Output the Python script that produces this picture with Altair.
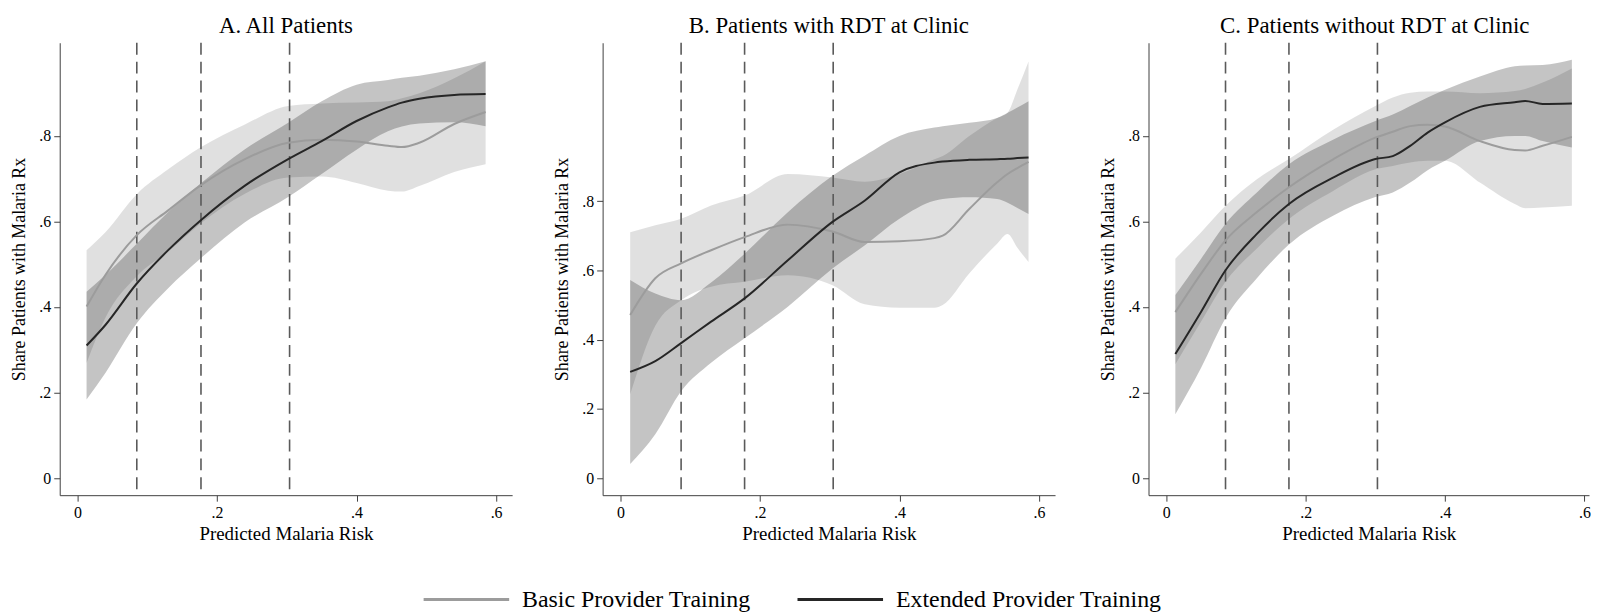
import altair as alt
import pandas as pd

BASIC = "Basic Provider Training"
EXT = "Extended Provider Training"
FONT = "Liberation Serif"

# ---------------- Panel A: All Patients ----------------
a_x = [0.013, 0.04, 0.085, 0.13, 0.176, 0.24, 0.302, 0.35, 0.40, 0.445, 0.465, 0.49, 0.54, 0.585]
a_basic_mean = [0.401, 0.475, 0.568, 0.626, 0.684, 0.746, 0.784, 0.791, 0.787, 0.777, 0.774, 0.784, 0.828, 0.856]
a_basic_lo = [0.269, 0.375, 0.472, 0.530, 0.595, 0.665, 0.703, 0.705, 0.690, 0.672, 0.670, 0.683, 0.716, 0.734]
a_basic_hi = [0.533, 0.575, 0.664, 0.722, 0.773, 0.827, 0.870, 0.876, 0.878, 0.881, 0.888, 0.900, 0.935, 0.975]
a_ext_mean = [0.310, 0.358, 0.455, 0.533, 0.602, 0.684, 0.746, 0.788, 0.835, 0.867, 0.878, 0.887, 0.896, 0.898]
a_ext_lo = [0.184, 0.246, 0.362, 0.444, 0.513, 0.598, 0.657, 0.711, 0.768, 0.811, 0.822, 0.829, 0.832, 0.823]
a_ext_hi = [0.436, 0.475, 0.548, 0.622, 0.688, 0.769, 0.831, 0.881, 0.920, 0.931, 0.936, 0.941, 0.956, 0.975]
a_cuts = [0.085, 0.177, 0.304]

# ---------------- Panel B: Patients with RDT at Clinic ----------------
b_x = [0.014, 0.05, 0.087, 0.13, 0.178, 0.24, 0.304, 0.35, 0.40, 0.45, 0.462, 0.50, 0.54, 0.555, 0.569, 0.585]
b_basic_mean = [0.471, 0.577, 0.620, 0.658, 0.696, 0.732, 0.712, 0.682, 0.684, 0.693, 0.700, 0.777, 0.854, 0.878, 0.895, 0.913]
b_basic_lo = [0.242, 0.440, 0.514, 0.553, 0.567, 0.586, 0.557, 0.502, 0.492, 0.492, 0.500, 0.591, 0.677, 0.705, 0.665, 0.624]
b_basic_hi = [0.710, 0.730, 0.749, 0.787, 0.816, 0.878, 0.868, 0.856, 0.878, 0.921, 0.930, 0.988, 1.040, 1.055, 1.122, 1.203]
b_ext_mean = [0.307, 0.338, 0.390, 0.452, 0.519, 0.629, 0.740, 0.801, 0.883, 0.911, 0.914, 0.919, 0.921, 0.922, 0.924, 0.926]
b_ext_lo = [0.041, 0.127, 0.251, 0.333, 0.404, 0.495, 0.605, 0.672, 0.749, 0.801, 0.806, 0.811, 0.806, 0.795, 0.780, 0.763]
b_ext_hi = [0.572, 0.533, 0.514, 0.565, 0.648, 0.768, 0.873, 0.931, 0.988, 1.012, 1.016, 1.026, 1.040, 1.055, 1.070, 1.088]
b_cuts = [0.087, 0.178, 0.305]

# ---------------- Panel C: Patients without RDT at Clinic ----------------
c_x = [0.013, 0.05, 0.085, 0.13, 0.176, 0.24, 0.30, 0.325, 0.35, 0.375, 0.40, 0.45, 0.50, 0.515, 0.54, 0.582]
c_basic_mean = [0.388, 0.478, 0.556, 0.622, 0.680, 0.746, 0.796, 0.810, 0.823, 0.826, 0.822, 0.788, 0.767, 0.766, 0.777, 0.798]
c_basic_lo = [0.266, 0.366, 0.459, 0.537, 0.606, 0.672, 0.722, 0.730, 0.738, 0.742, 0.742, 0.691, 0.641, 0.631, 0.633, 0.637]
c_basic_hi = [0.513, 0.575, 0.637, 0.699, 0.746, 0.815, 0.870, 0.890, 0.901, 0.904, 0.904, 0.900, 0.905, 0.910, 0.925, 0.958]
c_ext_mean = [0.290, 0.389, 0.486, 0.571, 0.641, 0.703, 0.746, 0.753, 0.777, 0.808, 0.832, 0.868, 0.879, 0.882, 0.875, 0.876]
c_ext_lo = [0.149, 0.258, 0.374, 0.467, 0.546, 0.614, 0.657, 0.668, 0.691, 0.720, 0.742, 0.788, 0.800, 0.800, 0.788, 0.773]
c_ext_hi = [0.428, 0.513, 0.595, 0.668, 0.734, 0.792, 0.835, 0.850, 0.870, 0.890, 0.908, 0.939, 0.963, 0.965, 0.966, 0.978]
c_cuts = [0.085, 0.176, 0.303]

titles = ["A. All Patients", "B. Patients with RDT at Clinic", "C. Patients without RDT at Clinic"]
x_ticks = [0, 0.2, 0.4, 0.6]
y_ticks = [0, 0.2, 0.4, 0.6, 0.8]

LBL = "datum.value == 0 ? '0' : replace(format(datum.value, '.1f'), '0.', '.')"


def build(xs, bm, bl, bh, em, el, eh):
    rows = []
    for i, x in enumerate(xs):
        rows.append({"x": x, "series": BASIC, "mean": bm[i], "lo": bl[i], "hi": bh[i]})
    for i, x in enumerate(xs):
        rows.append({"x": x, "series": EXT, "mean": em[i], "lo": el[i], "hi": eh[i]})
    return pd.DataFrame(rows)


LEG = alt.Legend(
    title=None, orient="none", legendX=364, legendY=515, direction="horizontal",
    columns=2, symbolType="stroke", symbolSize=7400, symbolStrokeWidth=3,
    labelFont=FONT, labelFontSize=24, labelOffset=11, columnPadding=40,
    labelLimit=500, labelColor="black",
)

COLOR = alt.Color(
    "series:N",
    scale=alt.Scale(domain=[BASIC, EXT], range=["#9c9c9c", "#262626"]),
    legend=LEG,
)


def panel(df, cuts, title, ydom, xmax, width, tdx=0):
    xsc = alt.Scale(domain=[-0.0255, xmax], nice=False, zero=False)
    ysc = alt.Scale(domain=ydom, nice=False, zero=False)
    xax = alt.Axis(values=x_ticks, labelExpr=LBL, title="Predicted Malaria Risk", grid=False)
    yax = alt.Axis(values=y_ticks, labelExpr=LBL, title="Share Patients with Malaria Rx", grid=False)
    X = alt.X("x:Q", scale=xsc, axis=xax)
    base = alt.Chart(df)
    band_b = base.transform_filter(alt.datum.series == BASIC).mark_area(
        color="#000000", opacity=0.122, interpolate="monotone"
    ).encode(x=X, y=alt.Y("lo:Q", scale=ysc, axis=yax), y2="hi:Q")
    band_e = base.transform_filter(alt.datum.series == EXT).mark_area(
        color="#000000", opacity=0.231, interpolate="monotone"
    ).encode(x=X, y=alt.Y("lo:Q", scale=ysc, axis=yax), y2="hi:Q")
    rules = alt.Chart(pd.DataFrame({"x": cuts})).mark_rule(
        color="#5a5a5a", strokeWidth=1.6, strokeDash=[12, 7]
    ).encode(x=X)
    lines = base.mark_line(strokeWidth=2, interpolate="monotone").encode(
        x=X, y=alt.Y("mean:Q", scale=ysc, axis=yax), color=COLOR
    )
    return alt.layer(band_b, band_e, rules, lines).properties(
        width=width, height=455, title=alt.TitleParams(title, dx=tdx)
    )


pA = panel(build(a_x, a_basic_mean, a_basic_lo, a_basic_hi, a_ext_mean, a_ext_lo, a_ext_hi),
           a_cuts, titles[0], [-0.04, 1.018], 0.623, 455)
pB = panel(build(b_x, b_basic_mean, b_basic_lo, b_basic_hi, b_ext_mean, b_ext_lo, b_ext_hi),
           b_cuts, titles[1], [-0.049, 1.257], 0.623, 455)
pC = panel(build(c_x, c_basic_mean, c_basic_lo, c_basic_hi, c_ext_mean, c_ext_lo, c_ext_hi),
           c_cuts, titles[2], [-0.04, 1.018], 0.6066, 443, tdx=6)

chart = alt.hconcat(alt.hconcat(pA, pB, spacing=42), pC, spacing=45).resolve_scale(
    color="shared"
).resolve_legend(color="shared").properties(
    padding={"top": 5, "left": 3, "right": 0, "bottom": 80}
).configure_view(stroke=None).configure_axis(
    domainColor="#404040", domainWidth=1, tickColor="#404040", tickSize=6, tickWidth=1,
    labelFont=FONT, labelFontSize=16, labelColor="black", labelPadding=3,
    titleFont=FONT, titleFontWeight="normal", titleColor="black",
).configure_axisX(titlePadding=5, titleFontSize=19).configure_axisY(
    titlePadding=10, titleFontSize=18
).configure_title(
    font=FONT, fontSize=23, fontWeight="normal", color="black", anchor="middle", offset=4
)

chart.save("out.html", embed_options={"renderer": "svg", "actions": False})
